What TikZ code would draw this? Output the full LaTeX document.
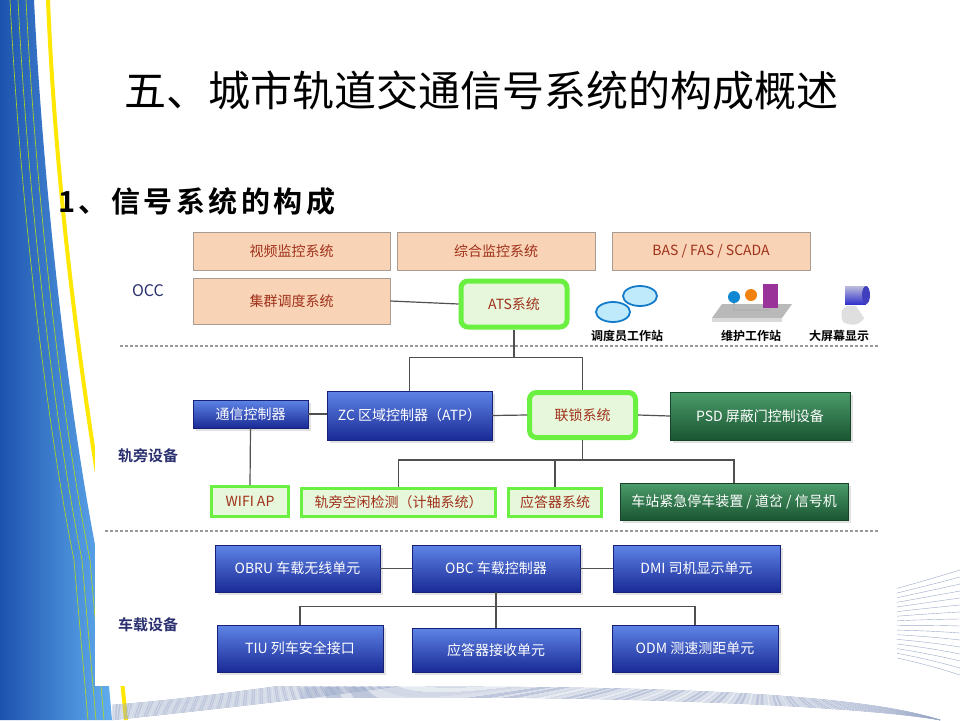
\documentclass[tikz,border=0pt]{standalone}
\usepackage{fontspec}
\setmainfont{Noto Sans CJK SC}[BoldFont={Noto Sans CJK SC Bold}]
\newfontfamily\subtitlefont{Noto Sans CJK SC Bold}[LetterSpace=12]
\usetikzlibrary{shadows}
\definecolor{peach}{HTML}{F8D3B6}
\definecolor{peachline}{HTML}{A89C92}
\definecolor{brickred}{HTML}{A0301A}
\definecolor{limegreen}{HTML}{6AF040}
\definecolor{palegreen}{HTML}{E6F7DC}
\definecolor{bluetop}{HTML}{5E84E6}
\definecolor{bluebot}{HTML}{1A2A96}
\definecolor{greentop}{HTML}{4C9C6A}
\definecolor{greenbot}{HTML}{1A5532}
\definecolor{linkgray}{HTML}{505050}
\definecolor{navytext}{HTML}{2B3170}
\definecolor{swdark}{HTML}{1C52AE}
\definecolor{swlight}{HTML}{62AEF0}
\definecolor{decoline}{HTML}{9AA8C8}
\tikzset{
  boxtext/.style={font=\fontsize{14}{16}\selectfont, inner sep=2pt, align=center},
  peachbox/.style={boxtext, draw=peachline, line width=0.8pt, fill=peach, text=brickred},
  greenring/.style={boxtext, draw=limegreen, line width=5pt, rounded corners=7pt, fill=palegreen, text=brickred},
  greenbox/.style={boxtext, draw=limegreen, line width=3pt, fill=palegreen, text=brickred},
  bluebox/.style={boxtext, top color=bluetop, bottom color=bluebot, draw=bluebot!80!black, text=white,
    drop shadow={shadow xshift=3pt, shadow yshift=-3pt, fill=gray!45}},
  darkgreenbox/.style={boxtext, top color=greentop, bottom color=greenbot, draw=greenbot!80!black, text=white,
    drop shadow={shadow xshift=3pt, shadow yshift=-3pt, fill=gray!45}},
  link/.style={draw=linkgray, line width=1.2pt},
  divider/.style={draw=gray!80, line width=1.5pt, dash pattern=on 3pt off 2pt},
  layerlabel/.style={font=\bfseries\fontsize{15}{18}\selectfont, text=navytext},
  iconlabel/.style={font=\bfseries\fontsize{12}{14}\selectfont, text=black, inner sep=1pt},
}
\begin{document}
\begin{tikzpicture}[x=1pt, y=-1pt]
\useasboundingbox (0,0) rectangle (960,720);
% slide background
\fill[white] (0,0) rectangle (960,720);
\shade[left color=swdark, right color=swlight] (0,0) -- (34,0)
  .. controls (44,200) and (70,420) .. (98,560) -- (112,720) -- (0,720) -- cycle;
\foreach \d in {8,16,24}
  \draw[yellow!70!green, line width=0.6pt] (34-\d,0) .. controls (44-\d,200) and (70-\d,420) .. (98-\d,560) -- (112-\d,720);
\draw[yellow!90!orange, line width=4pt] (48,0) .. controls (56,200) and (84,400) .. (108,540) -- (126,720);
\foreach \i in {0,...,15}
  \draw[decoline, line width=0.4pt] (112,720-\i) .. controls (400,690-\i*0.5) and (700,650-\i*4) .. (960,570+\i*7);
\foreach \i in {0,...,10}
  \draw[decoline, line width=0.4pt] (300,688+\i) .. controls (600,684+\i) and (850,690+\i*1.5) .. (940,720);
% diagram picture
\fill[white] (95,222) rectangle (897,686);
\node[font=\fontsize{42}{48}\selectfont] (title) at (481,90) {五、城市轨道交通信号系统的构成概述};
\node[font=\subtitlefont\fontsize{29}{34}\selectfont, anchor=west, inner sep=0pt] (subtitle) at (58,202) {1、信号系统的构成};
% OCC
\node[peachbox, minimum width=197pt, minimum height=38pt] (video) at (291.5,251) {视频监控系统};
\node[peachbox, minimum width=198pt, minimum height=38pt] (iscs) at (496,251) {综合监控系统};
\node[peachbox, minimum width=198pt, minimum height=38pt] (bas) at (711,251) {BAS / FAS / SCADA};
\node[peachbox, minimum width=197pt, minimum height=46pt] (trunk) at (291.5,301) {集群调度系统};
\node[greenring, minimum width=106pt, minimum height=46pt] (ats) at (514,304) {ATS系统};
\node[layerlabel, font=\fontsize{16}{18}\selectfont] (occ) at (148,291) {OCC};
% workstation icons
\draw[fill=cyan!25, draw=cyan!60!blue, line width=1.8pt] (640,296) ellipse (17 and 10);
\draw[fill=cyan!25, draw=cyan!60!blue, line width=1.8pt] (613,312) ellipse (17 and 10);
\fill[gray!55] (722,304) -- (792,304) -- (782,318) -- (712,318) -- cycle;
\fill[gray!30] (712,318) -- (782,318) -- (782,322) -- (712,322) -- cycle;
\fill[cyan!70!blue] (734,297) circle (6);
\fill[orange!80!brown] (751,295) circle (6);
\fill[violet!80] (763,284) rectangle (778,308);
\draw[gray!60, line width=1.5pt] (734,303) -- (734,310) -- (770,310);
\fill[gray!25] (843,322) .. controls (838,308) and (846,304) .. (856,306) -- (864,318) .. controls (860,326) and (850,326) .. cycle;
\shade[top color=blue!30!gray!40, bottom color=blue!60!gray] (845,286) rectangle (866,304);
\fill[blue!50!gray] (866,295) ellipse (4 and 9);
\node[iconlabel] (dispws) at (627,336) {调度员工作站};
\node[iconlabel] (maintws) at (751,336) {维护工作站};
\node[iconlabel] (bigscreen) at (839,336) {大屏幕显示};
\draw[divider] (120,346) -- (878,346);
% wayside
\node[bluebox, minimum width=115pt, minimum height=28pt] (comm) at (250.5,414) {通信控制器};
\node[bluebox, minimum width=165pt, minimum height=49pt] (zc) at (409.5,415.5) {ZC 区域控制器（ATP）};
\node[greenring, minimum width=106pt, minimum height=45pt] (ilk) at (582.5,415) {联锁系统};
\node[darkgreenbox, minimum width=180pt, minimum height=48pt] (psd) at (760,416) {PSD 屏蔽门控制设备};
\node[greenbox, minimum width=77pt, minimum height=30pt] (wifi) at (250,501.5) {WIFI AP};
\node[greenbox, minimum width=194pt, minimum height=28pt] (axle) at (398.5,502.5) {轨旁空闲检测（计轴系统）};
\node[greenbox, minimum width=93pt, minimum height=28pt] (balise) at (555,502.5) {应答器系统};
\node[darkgreenbox, minimum width=228pt, minimum height=37pt] (esb) at (734,501.5) {车站紧急停车装置 / 道岔 / 信号机};
\node[layerlabel] (wayside) at (148,456) {轨旁设备};
\draw[divider] (105,531) -- (878,531);
% onboard
\node[bluebox, minimum width=165pt, minimum height=47pt] (obru) at (297.5,568.5) {OBRU 车载无线单元};
\node[bluebox, minimum width=168pt, minimum height=47pt] (obc) at (496,568.5) {OBC 车载控制器};
\node[bluebox, minimum width=167pt, minimum height=47pt] (dmi) at (696.5,568.5) {DMI 司机显示单元};
\node[bluebox, minimum width=166pt, minimum height=47pt] (tiu) at (300,648.5) {TIU 列车安全接口};
\node[bluebox, minimum width=168pt, minimum height=44pt] (btm) at (496,650) {应答器接收单元};
\node[bluebox, minimum width=166pt, minimum height=47pt] (odm) at (695,648.5) {ODM 测速测距单元};
\node[layerlabel] (onboard) at (148,625) {车载设备};
% connectors
\draw[link] (trunk.east) -- (ats.west);
\draw[link] (ats.south) -- ++(0,28) coordinate (atsfork);
\draw[link] (atsfork) -| (zc.north);
\draw[link] (atsfork) -| (ilk.north);
\draw[link] (comm.east) -- (comm.east -| zc.west);
\draw[link] (zc.east) -- (ilk.west);
\draw[link] (ilk.east) -- (psd.west);
\draw[link] (comm.south) -- (wifi.north);
\draw[link] (ilk.south) -- ++(0,20) coordinate (ilkfork);
\draw[link] (ilkfork) -| (axle.north);
\draw[link] (ilkfork) -| (balise.north);
\draw[link] (ilkfork) -| (esb.north);
\draw[link] (obru.east) -- (obc.west);
\draw[link] (obc.east) -- (dmi.west);
\draw[link] (obc.south) -- ++(0,14) coordinate (obcfork);
\draw[link] (obcfork) -| (tiu.north);
\draw[link] (obcfork) -| (btm.north);
\draw[link] (obcfork) -| (odm.north);
\end{tikzpicture}
\end{document}
